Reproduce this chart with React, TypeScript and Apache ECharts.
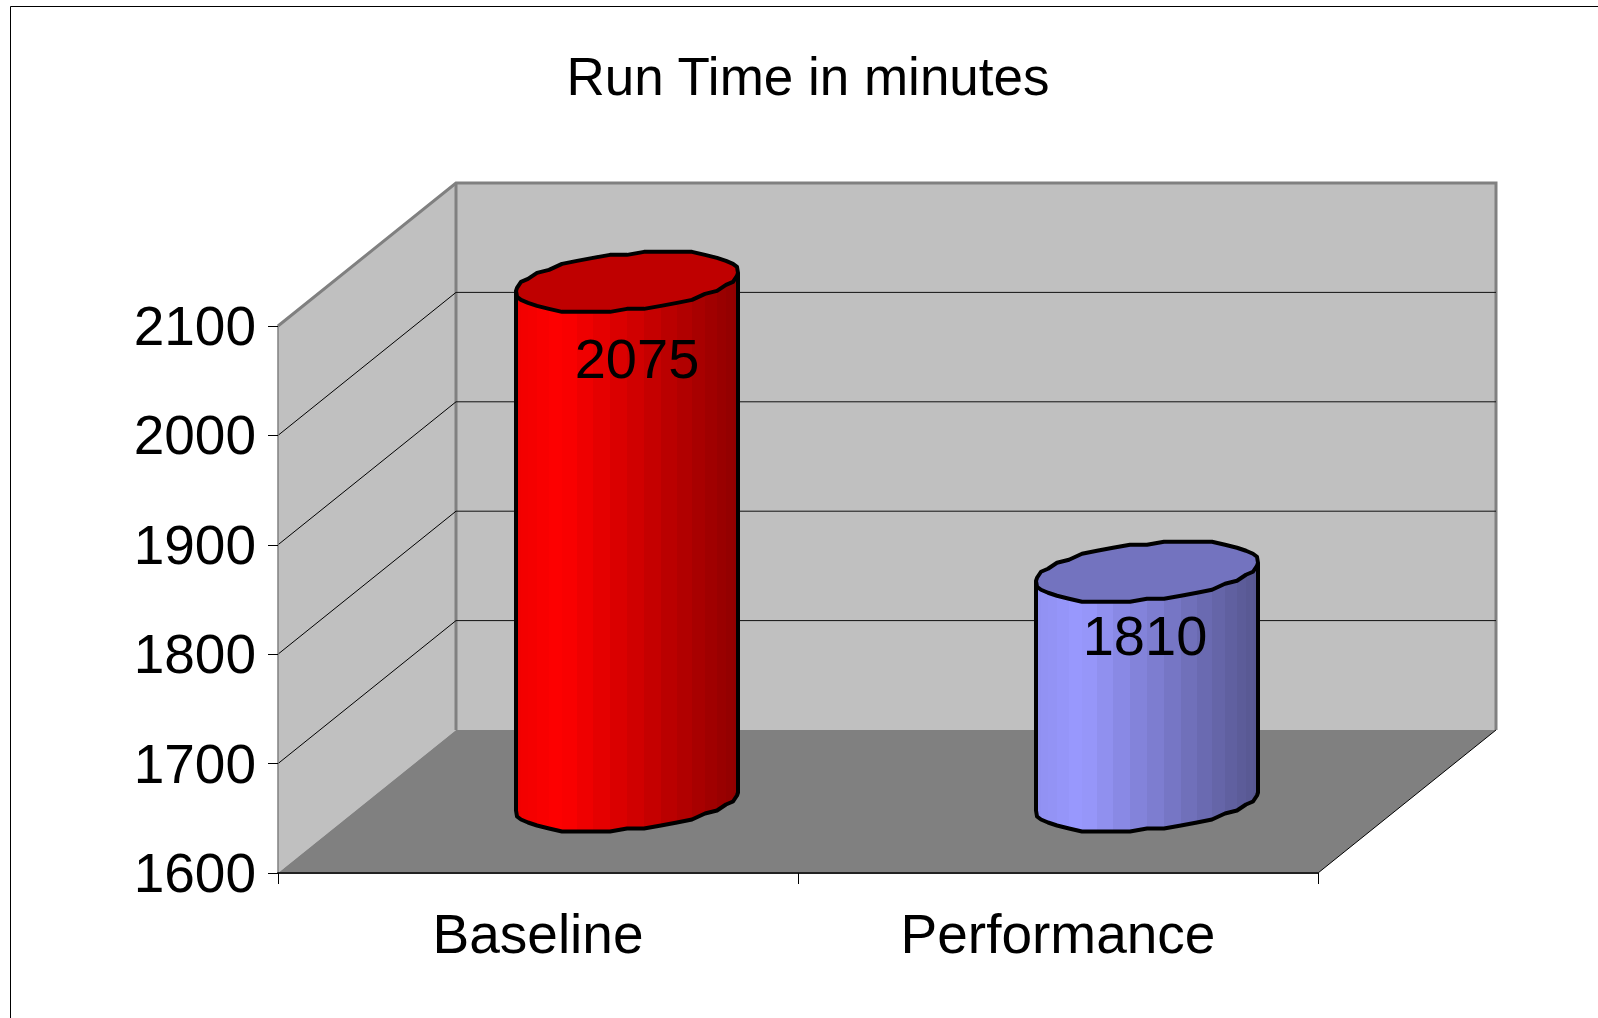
import React, { useEffect, useRef } from "react";
import * as echarts from "echarts";

const categories = ["Baseline", "Performance"];
const runTimes = [2075, 1810];
const yGridValues = [1700, 1800, 1900, 2000];
const titleText = "Run Time in minutes";
const baseColors = [[255, 0, 0], [153, 153, 255]];
const labelDx = [10, -2];
const labelDy = [77, 64];

const FONT = "'Liberation Sans', Arial, sans-serif";
const DEPTH_X = 178;
const DEPTH_Y = 143;
const RX = 104.5;
const ZX = 37.3;
const ZY = 30;
const STEPS = 40;
const T0 = Math.atan2(ZX, RX);

function rimOffset(t: number): [number, number] {
  const x = Math.cos(t) * RX + Math.sin(t) * ZX;
  const y = -Math.sin(t) * ZY;
  return [Math.round(x), Math.round(y / 3) * 3];
}

function shade(c: number[], f: number) {
  return `rgb(${Math.round(c[0] * f)},${Math.round(c[1] * f)},${Math.round(c[2] * f)})`;
}

function facetFactor(u: number) {
  if (u < 0.2) return 0.94 + (u / 0.2) * 0.06;
  return 1 - ((u - 0.2) / 0.8) * 0.44;
}

const renderWalls = (params: any) => {
  const g = params.coordSys;
  const L = g.x, R = g.x + g.width, T = g.y, B = g.y + g.height;
  const bl = L + DEPTH_X, br = R + DEPTH_X, bt = T - DEPTH_Y, bb = B - DEPTH_Y;
  return {
    type: "group",
    children: [
      { type: "polygon", shape: { points: [[bl, bt], [br, bt], [br, bb], [bl, bb]] }, style: { fill: "#C0C0C0", stroke: "none" } },
      { type: "polygon", shape: { points: [[L, T], [bl, bt], [bl, bb], [L, B]] }, style: { fill: "#C0C0C0", stroke: "none" } },
      { type: "polygon", shape: { points: [[L, B], [bl, bb], [br, bb], [R, B]] }, style: { fill: "#808080", stroke: "none" } },
      { type: "polyline", shape: { points: [[L, T], [bl, bt], [br, bt], [br, bb]] }, style: { fill: "none", stroke: "#808080", lineWidth: 3 } },
      { type: "line", shape: { x1: bl, y1: bt, x2: bl, y2: bb }, style: { stroke: "#808080", lineWidth: 3 } },
      { type: "line", shape: { x1: R, y1: B, x2: br, y2: bb }, style: { stroke: "#000", lineWidth: 1 } },
    ],
  };
};

const renderGrid = (params: any, api: any) => {
  const g = params.coordSys;
  const y = api.coord([0, api.value(0)])[1];
  const bl = g.x + DEPTH_X, br = g.x + g.width + DEPTH_X;
  return {
    type: "group",
    children: [
      { type: "line", shape: { x1: g.x, y1: y, x2: bl, y2: y - DEPTH_Y }, style: { stroke: "#000", lineWidth: 1 } },
      { type: "line", shape: { x1: bl, y1: y - DEPTH_Y, x2: br, y2: y - DEPTH_Y }, style: { stroke: "#111", lineWidth: 1 } },
    ],
  };
};

const renderCylinder = (params: any, api: any) => {
  const idx = params.dataIndex;
  const value = api.value(1);
  const top = api.coord([idx, value]);
  const base = api.coord([idx, 1600]);
  const cx = top[0] + DEPTH_X / 2;
  const topY = top[1] - DEPTH_Y / 2;
  const baseY = base[1] - DEPTH_Y / 2;
  const color = baseColors[idx];
  const children: any[] = [];
  const half = STEPS / 2;
  const angle = (i: number) => T0 + Math.PI + (i / half) * Math.PI;
  for (let i = 0; i < half; i++) {
    const a = rimOffset(angle(i));
    const b = rimOffset(angle(i + 1));
    const u = ((a[0] + b[0]) / 2 + 111) / 222;
    children.push({
      type: "polygon",
      shape: { points: [[cx + a[0], topY + a[1]], [cx + b[0], topY + b[1]], [cx + b[0], baseY + b[1]], [cx + a[0], baseY + a[1]]] },
      style: { fill: shade(color, facetFactor(u)), stroke: "none" },
    });
  }
  const front: number[][] = [];
  for (let i = 0; i <= half; i++) front.push(rimOffset(angle(i)));
  const outline = [
    [cx + front[0][0], topY + front[0][1]],
    ...front.map((p) => [cx + p[0], baseY + p[1]]),
    [cx + front[half][0], topY + front[half][1]],
  ];
  children.push({ type: "polyline", shape: { points: outline }, style: { fill: "none", stroke: "#000", lineWidth: 4, lineJoin: "round" } });
  const rim: number[][] = [];
  for (let i = 0; i < STEPS; i++) {
    const p = rimOffset(T0 + (i / STEPS) * Math.PI * 2);
    rim.push([cx + p[0], topY + p[1]]);
  }
  children.push({ type: "polygon", shape: { points: rim }, style: { fill: shade(color, 0.75), stroke: "#000", lineWidth: 4, lineJoin: "round" } });
  children.push({
    type: "text",
    style: {
      text: String(value),
      x: cx + labelDx[idx],
      y: topY + labelDy[idx],
      fill: "#000",
      fontSize: 56,
      fontFamily: FONT,
      align: "center",
      verticalAlign: "middle",
    },
  });
  return { type: "group", children };
};

export default function App() {
  const ref = useRef<HTMLDivElement>(null);
  useEffect(() => {
    document.body.style.margin = "0";
    const chart = echarts.init(ref.current!, undefined, { renderer: "svg" });
    chart.setOption({
      animation: false,
      backgroundColor: "#fff",
      title: {
        text: titleText,
        left: 803,
        top: 45,
        textAlign: "center",
        textStyle: { fontSize: 53, fontWeight: "normal", color: "#000", fontFamily: FONT },
      },
      grid: { left: 278, top: 326, width: 1040, height: 547 },
      xAxis: {
        type: "category",
        data: categories,
        z: 5,
        axisLine: { lineStyle: { color: "#222", width: 2 } },
        axisTick: { show: true, alignWithLabel: false, length: 11, lineStyle: { color: "#000", width: 1 } },
        axisLabel: { color: "#000", fontSize: 55, fontFamily: FONT, margin: 33 },
      },
      yAxis: {
        type: "value",
        min: 1600,
        max: 2100,
        interval: 100,
        z: 5,
        splitLine: { show: false },
        axisLine: { show: true, lineStyle: { color: "#808080", width: 1.5 } },
        axisTick: { show: true, length: 10, lineStyle: { color: "#000", width: 1 } },
        axisLabel: { color: "#000", fontSize: 55, fontFamily: FONT, margin: 22, padding: [4, 0, 0, 0], formatter: (v: number) => String(v) },
      },
      graphic: [
        { type: "polyline", silent: true, shape: { points: [[10.5, 1018], [10.5, 6.5], [1598, 6.5]] }, style: { fill: "none", stroke: "#000", lineWidth: 1 } },
      ],
      series: [
        { type: "custom", z: 1, silent: true, renderItem: renderWalls, data: [[0]], clip: false },
        { type: "custom", z: 2, silent: true, renderItem: renderGrid, data: yGridValues.map((v) => [v]), encode: { y: 0 }, clip: false },
        {
          type: "custom",
          z: 3,
          silent: true,
          renderItem: renderCylinder,
          data: runTimes.map((v, i) => [i, v]),
          encode: { x: 0, y: 1 },
          clip: false,
        },
      ],
    });
    return () => chart.dispose();
  }, []);
  return <div ref={ref} style={{ position: "absolute", left: 0, top: 0, width: 1598, height: 1018 }} />;
}
